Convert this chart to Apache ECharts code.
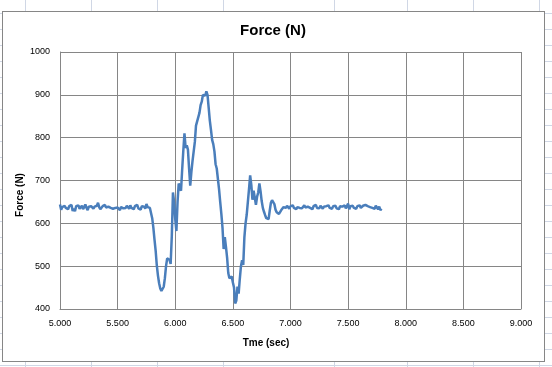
<!DOCTYPE html>
<html>
<head>
<meta charset="utf-8">
<script src="https://cdn.jsdelivr.net/npm/echarts@6/dist/echarts.min.js"></script>
<style>
  html, body { margin: 0; padding: 0; background: #ffffff; }
  #wrap { position: relative; width: 552px; height: 367px; overflow: hidden;
    background-image: repeating-linear-gradient(to bottom, transparent 0px, transparent 12px, #d0d7e5 12px, #d0d7e5 13px, transparent 13px, transparent 16px);
    background-position: 0 1px; }
  .col { position: absolute; top: 0; width: 1px; height: 367px; background: #d0d7e5; }
  #frame { position: absolute; left: 2px; top: 11px; width: 541px; height: 349px; background: #fff; border: 1px solid #868686; }
  #chart { position: absolute; left: 0; top: 0; width: 552px; height: 367px; }
</style>
</head>
<body>
<div id="wrap">
  <div id="frame"></div>
  <div id="chart"></div>
</div>
<script>
// Sampling
var startTime = 5.00;
var sampleStep = 0.01;

// Force (N) samples, 5.00 .. 5.77 s
var forceQuiet1 = [644,632,638,634,641,636,639,633,640,637,643,629,634,628,640,636,642,634,637,641,633,638,644,636,631,639,635,640,637,634,639,636,641,648,638,633,637,640,636,643,637,634,639,641,636,638,634,633,636,633,637,635,631,638,640,635,639,636,641,637,634,642,636,639,633,640,637,643,635,638,632,640,636,639,634,645,638,636];
// 5.78 .. 6.94 s
var forceImpact = [636,632,612,590,562,536,502,478,460,448,442,440,452,472,500,518,520,515,505,570,672,650,610,582,650,693,685,676,725,770,810,776,782,772,728,688,720,746,744,790,828,838,842,858,876,884,900,904,898,908,900,870,840,818,795,785,768,738,728,732,680,650,622,590,540,568,545,520,484,472,468,476,462,450,413,420,452,436,470,500,514,503,568,600,620,624,680,712,690,655,676,660,643,662,672,693,675,652,636,627,619,612,608,610,630,648,654,650,645,632,626,624,622,626,631,635,638];
// 6.95 .. 7.79 s
var forceQuiet2 = [639,636,641,637,634,640,637,642,636,639,633,638,641,636,640,635,638,642,637,634,639,641,636,638,633,640,637,643,636,639,635,641,637,634,639,636,640,638,642,636,639,634,640,637,641,635,638,633,640,637,639,636,642,635,638,646,633,640,637,641,636,639,634,640,637,642,636,639,641,637,643,646,640,644,638,642,636,640,634,641,637,633,639,631,634];

var xTicks = ['5.000','5.500','6.000','6.500','7.000','7.500','8.000','8.500','9.000'];
var yTicks = [400,500,600,700,800,900,1000];
var sheetColumns = [25, 91, 157, 223, 334, 407, 473, 539];

// spreadsheet columns
var wrap = document.getElementById('wrap');
sheetColumns.forEach(function (cx) {
  var d = document.createElement('div');
  d.className = 'col';
  d.style.left = cx + 'px';
  wrap.insertBefore(d, wrap.firstChild);
});

var forceAll = forceQuiet1.concat(forceImpact, forceQuiet2);
var seriesData = forceAll.map(function (v, i) {
  return [+(startTime + i * sampleStep).toFixed(2), v];
});

var chart = echarts.init(document.getElementById('chart'), null, { renderer: 'canvas' });
var gridColor = '#868686';
var font = '"Liberation Sans", Arial, sans-serif';
chart.setOption({
  backgroundColor: 'transparent',
  animation: false,
  grid: { left: 60, right: 31, top: 52, bottom: 58 },
  xAxis: {
    type: 'value',
    min: 5, max: 9, interval: 0.5,
    axisLine: { show: true, lineStyle: { color: gridColor, width: 1 } },
    axisTick: { show: false },
    splitLine: { show: true, lineStyle: { color: gridColor, width: 1 } },
    axisLabel: {
      margin: 10, color: '#000', fontSize: 9, fontFamily: font,
      formatter: function (v) { return xTicks[Math.round((v - 5) / 0.5)]; }
    }
  },
  yAxis: {
    type: 'value',
    min: 400, max: 1000, interval: 100,
    axisLine: { show: true, lineStyle: { color: gridColor, width: 1 } },
    axisTick: { show: false },
    splitLine: { show: true, lineStyle: { color: gridColor, width: 1 } },
    axisLabel: {
      margin: 10, color: '#000', fontSize: 9, fontFamily: font,
      formatter: function (v) { return String(yTicks[Math.round((v - 400) / 100)]); }
    }
  },
  graphic: [
    { type: 'text', x: 273, y: 31, style: { text: 'Force (N)', fill: '#000', font: 'bold 15px ' + font, textAlign: 'center', textVerticalAlign: 'middle' } },
    { type: 'text', x: 266, y: 343, style: { text: 'Tme (sec)', fill: '#000', font: 'bold 10px ' + font, textAlign: 'center', textVerticalAlign: 'middle' } },
    { type: 'text', x: 20, y: 195, rotation: Math.PI / 2, style: { text: 'Force (N)', fill: '#000', font: 'bold 10px ' + font, textAlign: 'center', textVerticalAlign: 'middle' } }
  ],
  series: [{
    type: 'line',
    data: seriesData,
    showSymbol: false,
    symbol: 'none',
    lineStyle: { color: '#4A7EBB', width: 2.5 },
    itemStyle: { color: '#4A7EBB' }
  }]
});
</script>
</body>
</html>
